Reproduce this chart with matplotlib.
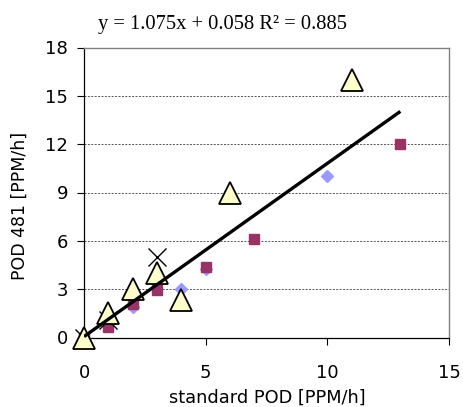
import matplotlib
matplotlib.use("Agg")
import matplotlib.pyplot as plt
import numpy as np

# Data
diamond_x = [0, 2, 4, 5, 10]
diamond_y = [0, 1.9, 3.0, 4.25, 10.0]
square_x = [0, 1, 2, 3, 5, 7, 13]
square_y = [0, 0.65, 2.1, 2.95, 4.4, 6.1, 12.0]
cross_x = [0, 1, 3]
cross_y = [0, 1.1, 5.0]
tri_x = [0, 1, 2, 3, 4, 6, 11]
tri_y = [0, 1.5, 3.0, 4.0, 2.3, 9.0, 16.0]
slope, intercept, r2 = 1.075, 0.058, 0.885
fit_x = [0, 13]

xticks = [0, 5, 10, 15]
yticks = [0, 3, 6, 9, 12, 15, 18]

fig = plt.figure(figsize=(4.63, 4.07), dpi=100)
ax = fig.add_axes([84/463, 1-337.5/407, (449-84)/463, (337.5-47.5)/407])

ax.set_xlim(0, 15)
ax.set_ylim(0, 18)
for yv in yticks[1:-1]:
    ax.axhline(yv, color='#555555', lw=0.7, ls=(0, (2, 1.5)), zorder=1)

ax.plot(diamond_x, diamond_y, 'D', color='#9999FF', ms=6.5, mec='#9999FF', clip_on=False, zorder=3)
ax.plot(square_x, square_y, 's', color='#993366', ms=6.5, mec='#993366', clip_on=False, zorder=3)
ax.plot(cross_x, cross_y, 'x', color='black', ms=13, mew=1.0, clip_on=False, zorder=4)
ax.plot(tri_x, tri_y, '^', mfc='#FFFFCC', mec='black', ms=15.5, mew=1.3, clip_on=False, zorder=5)
fx = np.array(fit_x, dtype=float)
ax.plot(fx, slope*fx + intercept, '-', color='black', lw=2.4, zorder=6, solid_capstyle='butt')

tick_font = 'DejaVu Sans'
ax.set_xticks(xticks)
ax.set_yticks(yticks)
ax.set_xticklabels([str(t) for t in xticks], fontsize=13, family=tick_font)
ax.set_yticklabels([str(t) for t in yticks], fontsize=13, family=tick_font)
ax.tick_params(direction='out', length=5, width=0.8, color='black')
ax.tick_params(axis='y', pad=6.5)
ax.tick_params(axis='x', pad=14)

for s in ['left', 'bottom']:
    ax.spines[s].set_color('black')
    ax.spines[s].set_linewidth(0.9)
for s in ['top', 'right']:
    ax.spines[s].set_color('#808080')
    ax.spines[s].set_linewidth(1.0)

ax.text(-0.175, 0.453, 'POD 481 [PPM/h]', transform=ax.transAxes, rotation=90,
        ha='center', va='center', fontsize=12.5, family=tick_font)
fig.text(267/463, 1-403/407, 'standard POD [PPM/h]',
         ha='center', va='baseline', fontsize=12.8, family=tick_font)

fig.text(223/463, 1-25/407, f'y = {slope}x + {intercept:.3f} R\u00b2 = {r2}',
         ha='center', va='center', fontsize=14.8, family='Liberation Serif')

fig.savefig('out.png', dpi=100)
